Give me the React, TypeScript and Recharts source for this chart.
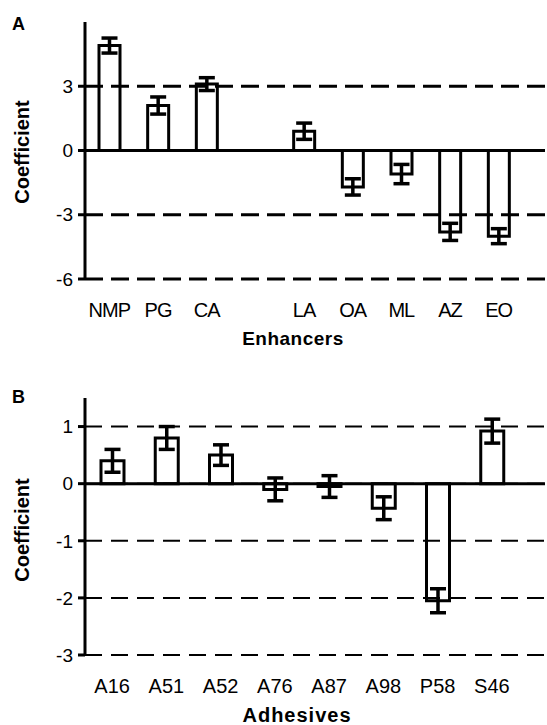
import React from "react";
import { BarChart, Bar, XAxis, YAxis, CartesianGrid, ErrorBar, ReferenceLine } from "recharts";

const FONT = "'Liberation Sans', Arial, Helvetica, sans-serif";

// Panel A - enhancers (one empty slot between CA and LA)
const enhancers = ["NMP", "PG", "CA", " ", "LA", "OA", "ML", "AZ", "EO"];
const enhancerCoef = [4.9, 2.1, 3.1, null, 0.9, -1.7, -1.1, -3.8, -4.0];
const enhancerErr = [0.35, 0.4, 0.3, null, 0.38, 0.38, 0.45, 0.4, 0.35];
const enhancerTicks = [-6, -3, 0, 3];

// Panel B - adhesives
const adhesives = ["A16", "A51", "A52", "A76", "A87", "A98", "P58", "S46"];
const adhesiveCoef = [0.4, 0.8, 0.5, -0.1, -0.05, -0.43, -2.05, 0.92];
const adhesiveErr = [0.2, 0.2, 0.18, 0.2, 0.19, 0.2, 0.21, 0.21];
const adhesiveTicks = [-3, -2, -1, 0, 1];

const dataA = enhancers.map((name, i) => ({ name, coef: enhancerCoef[i], err: enhancerErr[i] }));
const dataB = adhesives.map((name, i) => ({ name, coef: adhesiveCoef[i], err: adhesiveErr[i] }));

function Panel({ data, ticks, domain, height, marginBottom, barSize, dash, gridWidth, padRight, xTickStyle }: any) {
  return (
    <BarChart
      width={547}
      height={height}
      data={data}
      margin={{ top: 22, right: 2, left: 0, bottom: marginBottom }}
      barCategoryGap={0}
    >
      <CartesianGrid
        horizontal
        vertical={false}
        horizontalValues={ticks}
        stroke="#000"
        strokeWidth={gridWidth}
        strokeDasharray={dash}
      />
      <XAxis
        dataKey="name"
        axisLine={false}
        tickLine={false}
        tickSize={0}
        tickMargin={24}
        height={30}
        interval={0}
        padding={{ left: 0, right: padRight }}
        tick={{ fill: "#000", fontFamily: FONT, ...xTickStyle }}
      />
      <YAxis
        type="number"
        domain={domain}
        ticks={ticks}
        width={85}
        allowDataOverflow
        axisLine={{ stroke: "#000", strokeWidth: 3 }}
        tickLine={{ stroke: "#000", strokeWidth: 3 }}
        tickSize={7}
        tickMargin={5}
        tick={{ fill: "#000", fontSize: 19, fontFamily: FONT }}
      />
      <ReferenceLine y={0} stroke="#000" strokeWidth={3} />
      <Bar dataKey="coef" fill="none" stroke="#000" strokeWidth={3} barSize={barSize} isAnimationActive={false}>
        <ErrorBar dataKey="err" width={8} stroke="#000" strokeWidth={3.5} isAnimationActive={false} />
      </Bar>
    </BarChart>
  );
}

export default function App() {
  const labelStyle = { fontFamily: FONT, fontWeight: 700, fill: "#000" } as const;
  return (
    <div style={{ position: "absolute", left: 0, top: 0, width: 547, height: 725, background: "#fff" }}>
      <div style={{ position: "absolute", left: 0, top: 0 }}>
        <Panel
          data={dataA}
          ticks={enhancerTicks}
          domain={[-6, 6]}
          height={340}
          marginBottom={31}
          barSize={21}
          dash="18 8"
          gridWidth={3}
          padRight={22}
          xTickStyle={{ fontSize: 20, letterSpacing: -1 }}
        />
      </div>
      <div style={{ position: "absolute", left: 0, top: 376 }}>
        <Panel
          data={dataB}
          ticks={adhesiveTicks}
          domain={[-3, 1.5]}
          height={349}
          marginBottom={40}
          barSize={23}
          dash="17 9"
          gridWidth={2}
          padRight={26}
          xTickStyle={{ fontSize: 20 }}
        />
      </div>
      <svg width={547} height={725} style={{ position: "absolute", left: 0, top: 0, pointerEvents: "none" }}>
        <text x={12} y={30} fontSize={18} {...labelStyle}>A</text>
        <text x={12} y={403} fontSize={18} {...labelStyle}>B</text>
        <text x={22} y={152} fontSize={20} textAnchor="middle" dominantBaseline="central" transform="rotate(-90 22 152)" {...labelStyle}>
          Coefficient
        </text>
        <text x={22} y={530} fontSize={20} textAnchor="middle" dominantBaseline="central" transform="rotate(-90 22 530)" {...labelStyle}>
          Coefficient
        </text>
        <text x={293} y={345} fontSize={19} textAnchor="middle" letterSpacing={0.5} {...labelStyle}>Enhancers</text>
        <text x={297} y={722} fontSize={20} textAnchor="middle" letterSpacing={1} {...labelStyle}>Adhesives</text>
      </svg>
    </div>
  );
}
